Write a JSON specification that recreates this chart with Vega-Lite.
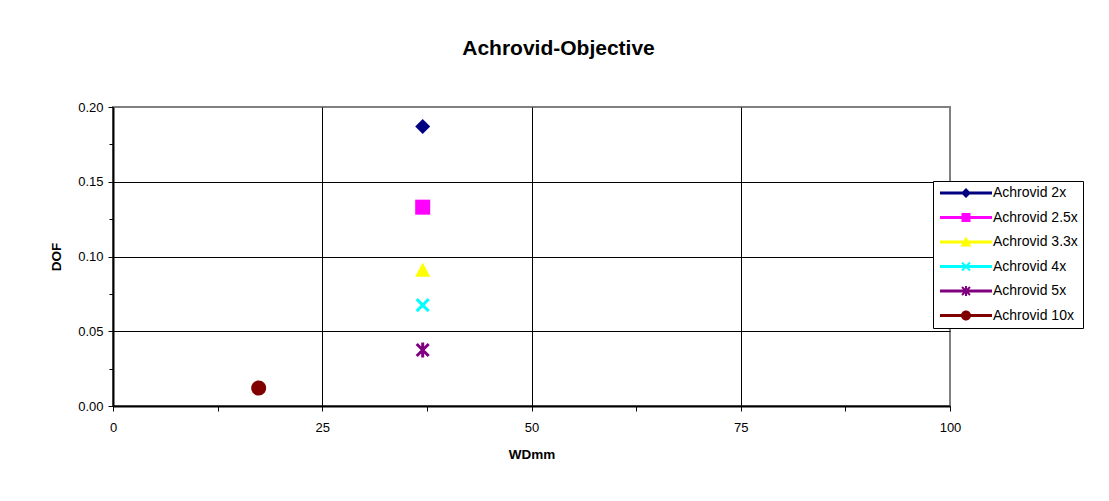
{
  "$schema": "https://vega.github.io/schema/vega-lite/v6.json",
  "width": 837,
  "height": 299,
  "autosize": {"type": "none"},
  "padding": {"left": 113, "top": 107, "right": 159, "bottom": 95},
  "background": "white",
  "title": {
    "text": "Achrovid-Objective",
    "font": "Liberation Sans",
    "fontSize": 21,
    "fontWeight": "bold",
    "color": "black",
    "anchor": "middle",
    "dx": 27,
    "offset": 42
  },
  "config": {
    "view": {"stroke": "#808080", "strokeWidth": 2, "fill": "white"},
    "axis": {
      "labelFont": "Liberation Sans",
      "labelFontSize": 13,
      "labelColor": "black",
      "titleFont": "Liberation Sans",
      "titleFontSize": 13.5,
      "titleFontWeight": "bold",
      "titleColor": "black",
      "domainColor": "black",
      "domainWidth": 2,
      "tickColor": "black",
      "tickWidth": 1,
      "gridColor": "black",
      "gridWidth": 1
    },
    "legend": {
      "orient": "none",
      "legendX": 820,
      "legendY": 74,
      "padding": 5,
      "strokeColor": "black",
      "fillColor": "white",
      "labelFont": "Liberation Sans",
      "labelFontSize": 14,
      "labelColor": "black",
      "symbolSize": 100,
      "symbolOpacity": 1,
      "labelOffset": 41
    }
  },
  "data": {
    "values": [
      {"series": "Achrovid 2x", "WDmm": 37, "DOF": 0.187},
      {"series": "Achrovid 2.5x", "WDmm": 37, "DOF": 0.133},
      {"series": "Achrovid 3.3x", "WDmm": 37, "DOF": 0.091},
      {"series": "Achrovid 4x", "WDmm": 37, "DOF": 0.0675},
      {"series": "Achrovid 5x", "WDmm": 37, "DOF": 0.0375},
      {"series": "Achrovid 10x", "WDmm": 17.4, "DOF": 0.012}
    ]
  },
  "encoding": {
    "x": {
      "field": "WDmm",
      "type": "quantitative",
      "scale": {"domain": [0, 100], "nice": false, "zero": false},
      "axis": {
        "title": "WDmm",
        "values": [0, 12.5, 25, 37.5, 50, 62.5, 75, 87.5, 100],
        "labelExpr": "datum.value % 25 == 0 ? datum.label : ''",
        "labelPadding": 10,
        "labelFlush": false,
        "titlePadding": 13,
        "tickSize": 5,
        "grid": true,
        "gridOpacity": {"condition": {"test": "datum.value % 25 != 0 || datum.value == 0 || datum.value == 100", "value": 0}, "value": 1}
      }
    },
    "y": {
      "field": "DOF",
      "type": "quantitative",
      "scale": {"domain": [0, 0.2], "nice": false},
      "axis": {
        "title": "DOF",
        "values": [0, 0.025, 0.05, 0.075, 0.1, 0.125, 0.15, 0.175, 0.2],
        "format": ".2f",
        "labelExpr": "round(datum.value * 1000) % 50 == 0 ? datum.label : ''",
        "labelPadding": 5,
        "labelFlush": false,
        "titlePadding": 14,
        "tickSize": {"condition": {"test": "round(datum.value * 1000) % 50 != 0", "value": 4}, "value": 5},
        "grid": true,
        "gridOpacity": {"condition": {"test": "round(datum.value * 1000) % 50 != 0 || datum.value == 0 || round(datum.value * 1000) == 200", "value": 0}, "value": 1}
      }
    }
  },
  "layer": [
    {
      "mark": {"type": "point", "filled": true, "opacity": 1, "size": 225, "strokeWidth": 0},
      "encoding": {
        "color": {
          "field": "series",
          "type": "nominal",
          "scale": {
            "domain": ["Achrovid 2x", "Achrovid 2.5x", "Achrovid 3.3x", "Achrovid 4x", "Achrovid 5x", "Achrovid 10x"],
            "range": ["#000080", "#FF00FF", "#FFFF00", "#00FFFF", "#800080", "#800000"]
          },
          "legend": null
        },
        "shape": {
          "field": "series",
          "type": "nominal",
          "scale": {
            "domain": ["Achrovid 2x", "Achrovid 2.5x", "Achrovid 3.3x", "Achrovid 4x", "Achrovid 5x", "Achrovid 10x"],
            "range": [
              "M0,-1L1,0L0,1L-1,0Z",
              "M-1,-1H1V1H-1Z",
              "M0,-1L1,0.9H-1Z",
              "M-0.94,-0.66L-0.66,-0.94L0.94,0.66L0.66,0.94ZM-0.66,0.94L-0.94,0.66L0.66,-0.94L0.94,-0.66Z",
              "M-0.94,-0.66L-0.66,-0.94L0.94,0.66L0.66,0.94ZM-0.66,0.94L-0.94,0.66L0.66,-0.94L0.94,-0.66ZM-0.2,-1H0.2V1H-0.2Z",
              "M-1,0A1,1,0,1,1,1,0A1,1,0,1,1,-1,0Z"
            ]
          },
          "legend": null
        }
      }
    },
    {
      "mark": {"type": "point", "filled": true, "opacity": 0, "size": 100},
      "encoding": {
        "color": {
          "field": "series",
          "type": "nominal",
          "scale": {
            "domain": ["Achrovid 2x", "Achrovid 2.5x", "Achrovid 3.3x", "Achrovid 4x", "Achrovid 5x", "Achrovid 10x"],
            "range": ["#000080", "#FF00FF", "#FFFF00", "#00FFFF", "#800080", "#800000"]
          },
          "legend": {"title": null, "rowPadding": 10.5, "symbolOpacity": 1, "encode": {"symbols": {"update": {"opacity": {"value": 1}, "fillOpacity": {"value": 1}}}}}
        },
        "shape": {
          "field": "series",
          "type": "nominal",
          "scale": {
            "domain": ["Achrovid 2x", "Achrovid 2.5x", "Achrovid 3.3x", "Achrovid 4x", "Achrovid 5x", "Achrovid 10x"],
            "range": [
              "M-1,-0.32H9.4V0.32H-1ZM4.2,-1L5.2,0L4.2,1L3.2,0Z",
              "M-1,-0.32H9.4V0.32H-1ZM3.3,-0.9H5.1V0.9H3.3Z",
              "M-1,-0.32H9.4V0.32H-1ZM4.2,-1.1L5.3,0.9H3.1Z",
              "M-1,-0.32H9.4V0.32H-1ZM3.26,-0.66L3.54,-0.94L5.14,0.66L4.86,0.94ZM3.54,0.94L3.26,0.66L4.86,-0.94L5.14,-0.66Z",
              "M-1,-0.32H9.4V0.32H-1ZM3.26,-0.66L3.54,-0.94L5.14,0.66L4.86,0.94ZM3.54,0.94L3.26,0.66L4.86,-0.94L5.14,-0.66ZM4.0,-1H4.4V1H4.0Z",
              "M-1,-0.32H9.4V0.32H-1ZM3.2,0A1,1,0,1,1,5.2,0A1,1,0,1,1,3.2,0Z"
            ]
          },
          "legend": {"title": null, "rowPadding": 10.5, "symbolOpacity": 1, "encode": {"symbols": {"update": {"opacity": {"value": 1}, "fillOpacity": {"value": 1}}}}}
        }
      }
    }
  ],
  "resolve": {"scale": {"color": "independent", "shape": "independent"}}
}
